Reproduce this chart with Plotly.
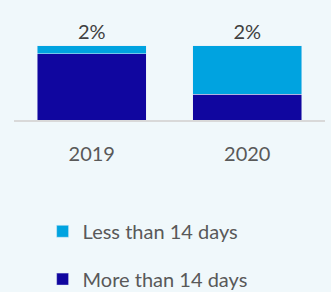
import plotly.graph_objects as go

years = ["2019", "2020"]
less_than_14 = [11, 65]
more_than_14 = [89, 35]
totals_text = ["2%", "2%"]

fig = go.Figure()
fig.add_trace(go.Bar(x=years, y=more_than_14, name="More than 14 days",
                     marker_color="#10069F", legend="legend2"))
fig.add_trace(go.Bar(x=years, y=less_than_14, name="Less than 14 days",
                     marker_color="#00A3E0", legend="legend",
                     text=totals_text, textposition="outside", cliponaxis=False,
                     constraintext="none",
                     outsidetextfont=dict(size=20, color="#404040", family="Lato")))

leg = dict(xanchor="left", yanchor="middle", font=dict(size=20, color="#595959"),
           bgcolor="rgba(0,0,0,0)")
fig.update_layout(
    width=331, height=292,
    barmode="stack", bargap=0.3,
    paper_bgcolor="#F0F8FB", plot_bgcolor="#F0F8FB",
    margin=dict(l=14, r=6, t=16, b=172, autoexpand=False),
    font=dict(family="Lato", size=20, color="#595959"),
    showlegend=True,
    legend=dict(x=0.092, y=-1.07, **leg),
    legend2=dict(x=0.092, y=-1.53, **leg),
    xaxis=dict(type="category", showline=True, linecolor="#D9D9D9", linewidth=2,
               ticks="outside", ticklen=15, tickcolor="rgba(0,0,0,0)",
               showgrid=False, zeroline=False),
    yaxis=dict(visible=False, range=[0, 140]),
)

fig.write_html("out.html", config={"displayModeBar": False},
               post_script="document.body.style.margin='0px';")
